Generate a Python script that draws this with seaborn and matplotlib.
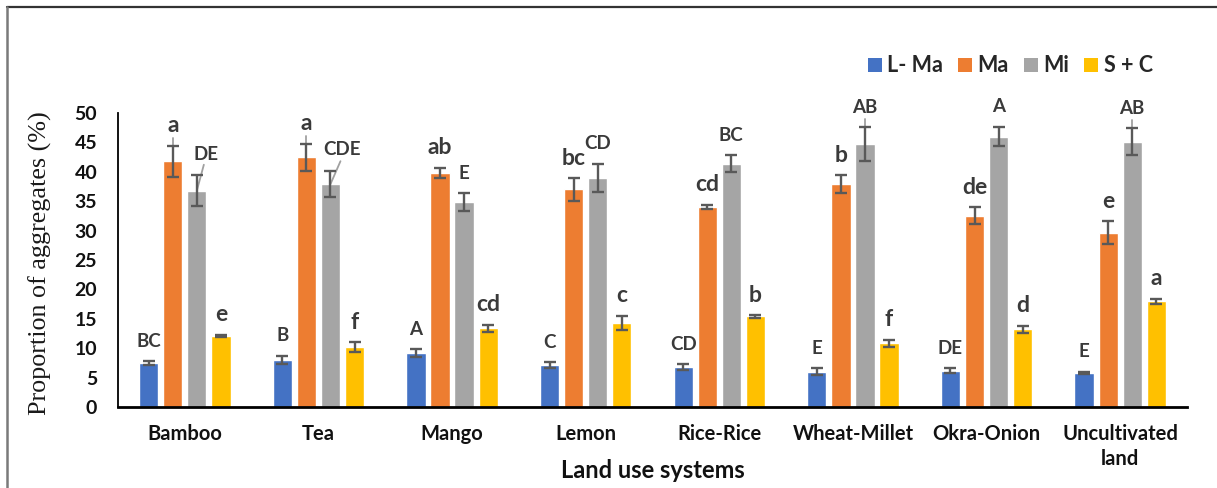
import matplotlib
matplotlib.use("Agg")
import matplotlib.pyplot as plt
from matplotlib.lines import Line2D
from matplotlib.patches import Patch
import numpy as np
import pandas as pd
import seaborn as sns

# Land use systems and aggregate size fractions
categories = ["Bamboo", "Tea", "Mango", "Lemon", "Rice-Rice",
              "Wheat-Millet", "Okra-Onion", "Uncultivated\nland"]
series = ["L- Ma", "Ma", "Mi", "S + C"]

# Mean proportion of aggregates (%) per fraction
l_ma = [7.5, 8.0, 9.2, 7.1, 6.8, 6.0, 6.2, 5.8]
ma = [41.8, 42.5, 39.8, 37.0, 34.0, 37.9, 32.5, 29.6]
mi = [36.8, 37.9, 34.8, 39.0, 41.4, 44.7, 46.0, 45.1]
s_c = [12.1, 10.2, 13.4, 14.3, 15.4, 10.8, 13.2, 18.0]

# Standard errors
l_ma_err = [0.3, 0.7, 0.65, 0.5, 0.5, 0.55, 0.4, 0.2]
ma_err = [2.6, 2.3, 0.9, 1.9, 0.4, 1.55, 1.45, 1.95]
mi_err = [2.7, 2.2, 1.55, 2.4, 1.4, 2.9, 1.65, 2.3]
s_c_err = [0.2, 0.8, 0.6, 1.25, 0.2, 0.6, 0.6, 0.4]

# Significance letters
l_ma_lbl = ["BC", "B", "A", "C", "CD", "E", "DE", "E"]
ma_lbl = ["a", "a", "ab", "bc", "cd", "b", "de", "e"]
mi_lbl = ["DE", "CDE", "E", "CD", "BC", "AB", "A", "AB"]
s_c_lbl = ["e", "f", "cd", "c", "b", "f", "d", "a"]

colors = ["#4472C4", "#ED7D31", "#A5A5A5", "#FFC000"]

values = [l_ma, ma, mi, s_c]
errors = [l_ma_err, ma_err, mi_err, s_c_err]
letters = [l_ma_lbl, ma_lbl, mi_lbl, s_c_lbl]

df = pd.DataFrame({
    "land": np.tile(categories, len(series)),
    "fraction": np.repeat(series, len(categories)),
    "value": np.concatenate(values),
})

sns.set_style("white")
plt.rcParams["font.family"] = ["Lato", "DejaVu Sans"]

W, H = 1217, 488
fig = plt.figure(figsize=(W / 100, H / 100), dpi=100)
ax = fig.add_axes([118 / W, 81 / H, (1187 - 118) / W, (407 - 113) / H])

sns.barplot(data=df, x="land", y="value", hue="fraction",
            order=categories, hue_order=series, palette=colors,
            width=0.72, gap=0.2, errorbar=None, legend=False,
            saturation=1, ax=ax, zorder=2)

ax.set_ylim(0, 50)
ax.set_xlim(-0.5, len(categories) - 0.5)

# Leader lines and label nudges (pixels) for a few crowded labels
leaders_vertical = {("Bamboo", "Ma"), ("Tea", "Ma"),
                    ("Wheat-Millet", "Mi"), ("Uncultivated\nland", "Mi")}
nudge = {("Bamboo", "Mi"): (9, 0), ("Tea", "Mi"): (12, 2)}

px = 72 / 100  # points per pixel
to_disp = ax.transData
to_data = ax.transData.inverted()

bar_containers = list(ax.containers)
for si, cont in enumerate(bar_containers):
    xs = [b.get_x() + b.get_width() / 2 for b in cont]
    ax.errorbar(xs, values[si], yerr=errors[si], fmt="none",
                ecolor="#595959", elinewidth=1.7, capsize=4.6,
                capthick=1.7, zorder=4)
    for ci, x in enumerate(xs):
        val = values[si][ci]
        top = val + errors[si][ci]
        key = (categories[ci], series[si])
        dx, dy = nudge.get(key, (0, 0))
        lbl = letters[si][ci]
        size = 16.5 if lbl.islower() else 13.5
        ax.annotate(lbl, xy=(x, top), xytext=(dx * px, (20 + dy) * px),
                    textcoords="offset points", ha="center", va="center",
                    fontsize=size, fontweight="bold", color="#3a3a3a",
                    zorder=5)
        if key in leaders_vertical:
            dxp, dyp = to_disp.transform((x, top))
            _, y_end = to_data.transform((dxp, dyp + 8))
            ax.plot([x, x], [val, y_end], color="#A0A0A0", lw=1.3,
                    zorder=3)
        if key in nudge:
            ax.annotate("", xy=(x, val),
                        xytext=((dx - 2) * px, (errors[si][ci] * 5.88 + 10) * px),
                        textcoords="offset points",
                        arrowprops=dict(arrowstyle="-", color="#A0A0A0",
                                        lw=1.3, shrinkA=0, shrinkB=0),
                        zorder=3)

ax.set_yticks(np.arange(0, 51, 5))
ax.set_xlabel("")
ax.set_ylabel("")
ax.tick_params(axis="y", length=0, pad=15, labelsize=14)
ax.tick_params(axis="x", length=0, pad=12, labelsize=14.5)
for t in ax.get_yticklabels() + ax.get_xticklabels():
    t.set_fontweight("bold")
    t.set_color("#111111")
for t in ax.get_xticklabels():
    t.set_linespacing(1.35)

for side in ["top", "right"]:
    ax.spines[side].set_visible(False)
ax.spines["left"].set_color("#000000")
ax.spines["left"].set_linewidth(1.3)
ax.spines["bottom"].set_color("#000000")
ax.spines["bottom"].set_linewidth(2)

fig.text(40 / W, 1 - 263 / H, "Proportion of aggregates (%)",
         rotation=90, ha="center", va="center", fontsize=18.8,
         family=["Liberation Serif", "DejaVu Serif"], color="#1a1a1a")
fig.text(653 / W, 1 - 470 / H, "Land use systems", ha="center",
         va="center", fontsize=17, fontweight="bold", color="#111111")

handles = [Patch(facecolor=c, edgecolor="none") for c in colors]
fig.legend(handles, series, loc="center right", ncol=4, frameon=False,
           bbox_to_anchor=(1172 / W, 1 - 66 / H),
           prop={"size": 15.5, "weight": "bold"},
           handlelength=0.65, handleheight=0.65, handletextpad=0.25,
           columnspacing=0.7)

# Frame edges of the figure panel
fig.add_artist(Line2D([7 / W, 1], [1 - 7 / H, 1 - 7 / H],
                      transform=fig.transFigure, color="#333333", lw=1.6))
fig.add_artist(Line2D([7 / W, 7 / W], [0, 1 - 7 / H],
                      transform=fig.transFigure, color="#7a7a7a", lw=1.8))

fig.savefig("out.png", dpi=100)
